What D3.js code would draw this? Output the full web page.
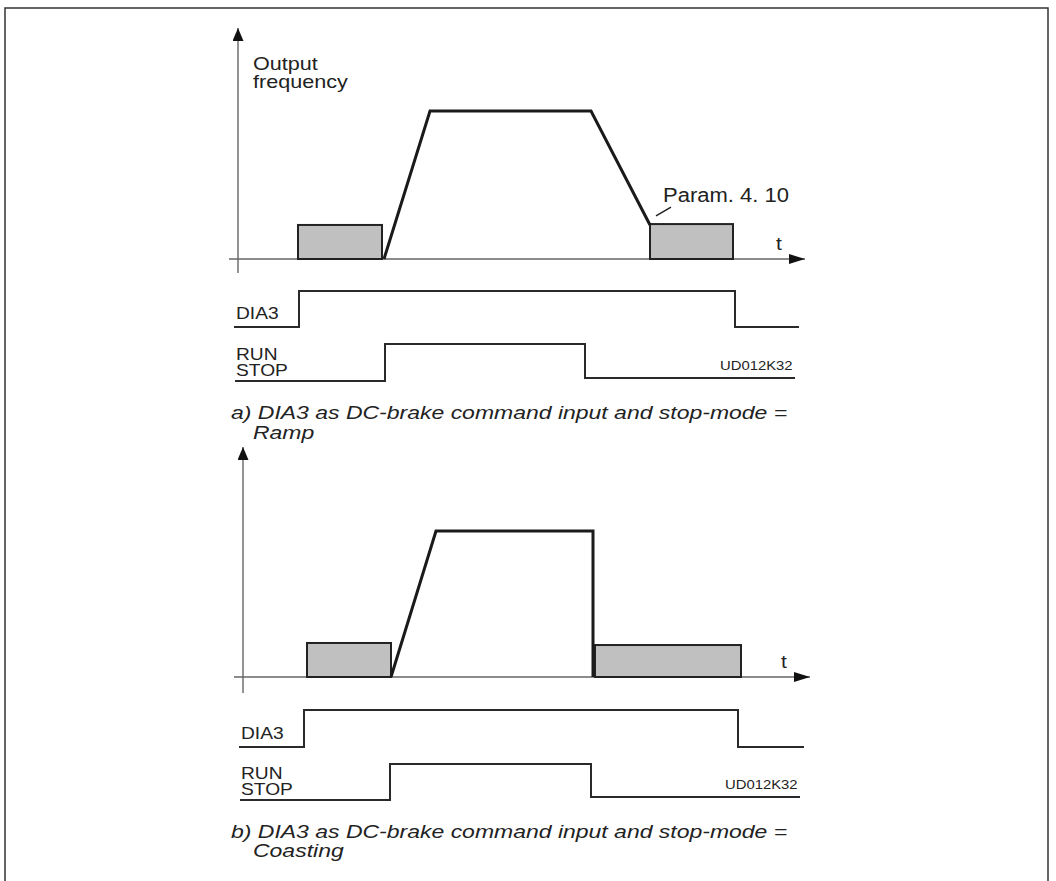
<!DOCTYPE html>
<html>
<head>
<meta charset="utf-8">
<script src="https://cdn.jsdelivr.net/npm/d3@7/dist/d3.min.js"></script>
<style>
  html, body { margin: 0; padding: 0; background: #fff; }
  svg { display: block; font-family: "Liberation Sans", Arial, Helvetica, sans-serif; }
</style>
</head>
<body>
<svg id="chart" width="1056" height="881"></svg>
<script>
// ---------------- DATA ----------------
const panels = ["a", "b"];
const captionLine1 = ["a) DIA3 as DC-brake command input and stop-mode =",
                      "b) DIA3 as DC-brake command input and stop-mode ="];
const captionLine2 = ["Ramp", "Coasting"];
const yAxisLabel = ["Output", "frequency"];
const timeLabel = "t";
const paramLabel = "Param. 4. 10";
const figureCode = "UD012K32";
const signalNames = ["DIA3", "RUN\nSTOP"];

// output frequency curve (time units, % of max frequency)
const freqTimesA  = [14.6, 19.2, 35.3, 41.2];
const freqValuesA = [0, 100, 100, 23];
const freqTimesB  = [14.8, 19.3, 35.0, 35.0];
const freqValuesB = [0, 100, 100, 0];

// DC-brake intervals
const brakeStartA = [6.0, 41.2];
const brakeEndA   = [14.4, 49.5];
const brakeLevelA = [23, 23.6];
const brakeStartB = [6.4, 35.2];
const brakeEndB   = [14.8, 49.8];
const brakeLevelB = [23.3, 21.9];

// digital signals: edge times and levels (step-after)
const dia3TimesA  = [-0.4, 6.1, 49.7, 56.1];
const dia3LevelsA = [0, 1, 0, 0];
const runTimesA   = [-0.3, 14.7, 34.7, 55.7];
const runLevelsA  = [0, 1, 0.08, 0.08];
const dia3TimesB  = [-0.4, 6.1, 49.5, 56.1];
const dia3LevelsB = [0, 1, 0, 0];
const runTimesB   = [-0.3, 14.7, 34.8, 55.7];
const runLevelsB  = [0, 1, 0.08, 0.08];

// ---------------- LAYOUT ----------------
const layout = {
  a: { ox: 238, baseY: 259, topY: 111, axisTopY: 28, axisBottomY: 273,
       dia3: [327, 291], run: [381, 344],
       dataFreqT: freqTimesA, dataFreqV: freqValuesA,
       bS: brakeStartA, bE: brakeEndA, bL: brakeLevelA,
       dT: dia3TimesA, dL: dia3LevelsA, rT: runTimesA, rL: runLevelsA,
       cap1Y: 419, cap2Y: 439 },
  b: { ox: 243, baseY: 677, topY: 531, axisTopY: 447, axisBottomY: 693,
       dia3: [747, 710], run: [800, 764],
       dataFreqT: freqTimesB, dataFreqV: freqValuesB,
       bS: brakeStartB, bE: brakeEndB, bL: brakeLevelB,
       dT: dia3TimesB, dL: dia3LevelsB, rT: runTimesB, rL: runLevelsB,
       cap1Y: 838, cap2Y: 857 }
};

const svg = d3.select("#chart");
const ink = "#222";

// border
svg.append("path")
  .attr("d", "M5,881 V8 H1048 V881")
  .attr("fill", "none").attr("stroke", "#333").attr("stroke-width", 1.5);

// arrow markers
const defs = svg.append("defs");
defs.append("marker").attr("id", "arrowX")
  .attr("viewBox", "0 0 16 10").attr("refX", 16).attr("refY", 5)
  .attr("markerUnits", "userSpaceOnUse")
  .attr("markerWidth", 16).attr("markerHeight", 10).attr("orient", "auto")
  .append("path").attr("d", "M0,0 L16,5 L0,10 Z").attr("fill", "#111");
defs.append("marker").attr("id", "arrowY")
  .attr("viewBox", "0 0 13 11").attr("refX", 13).attr("refY", 5.5)
  .attr("markerUnits", "userSpaceOnUse")
  .attr("markerWidth", 13).attr("markerHeight", 11).attr("orient", "auto")
  .append("path").attr("d", "M0,0 L13,5.5 L0,11 Z").attr("fill", "#111");

function stretchedText(g, str, x, y, size, sx, opts = {}) {
  return g.append("text")
    .attr("transform", `translate(${x},${y}) scale(${sx},1)`)
    .attr("font-size", size)
    .attr("font-style", opts.italic ? "italic" : "normal")
    .attr("fill", ink)
    .text(str);
}

panels.forEach((p, i) => {
  const L = layout[p];
  const g = svg.append("g");
  const x = d3.scaleLinear().domain([0, 56]).range([L.ox, L.ox + 560]);
  const y = d3.scaleLinear().domain([0, 100]).range([L.baseY, L.topY]);

  // axes (domain lines only) via d3 axes
  const xAxisScale = d3.scaleLinear().domain([-0.9, 56.7]).range([x(-0.9), x(56.7)]);
  const yAxisScale = d3.scaleLinear().domain([-10, 100]).range([L.axisBottomY, L.axisTopY]);

  g.append("line")
    .attr("x1", x(-0.9)).attr("x2", x(56.7))
    .attr("y1", y(0)).attr("y2", y(0))
    .attr("stroke", "#666").attr("stroke-width", 1.4)
    .attr("marker-end", "url(#arrowX)");
  g.append("line")
    .attr("x1", x(0)).attr("x2", x(0))
    .attr("y1", yAxisScale(-10)).attr("y2", yAxisScale(100))
    .attr("stroke", "#666").attr("stroke-width", 1.4)
    .attr("marker-end", "url(#arrowY)");

  // brake rectangles
  const brakes = L.bS.map((s, k) => ({ s, e: L.bE[k], v: L.bL[k] }));
  g.selectAll("rect.brake").data(brakes).join("rect")
    .attr("class", "brake")
    .attr("x", d => x(d.s)).attr("width", d => x(d.e) - x(d.s))
    .attr("y", d => y(d.v)).attr("height", d => y(0) - y(d.v))
    .attr("fill", "#c0c0c0").attr("stroke", "#222").attr("stroke-width", 2);

  // frequency curve
  const freq = L.dataFreqT.map((t, k) => [t, L.dataFreqV[k]]);
  g.append("path").datum(freq)
    .attr("d", d3.line().x(d => x(d[0])).y(d => y(d[1])))
    .attr("fill", "none").attr("stroke", "#1a1a1a").attr("stroke-width", 3)
    .attr("stroke-linejoin", "miter");

  // t label
  stretchedText(g, timeLabel, x(53.8), y(0) - 9, 19, 1.1);

  // signals
  const sigLine = (lv) => d3.line()
    .x(d => x(d[0]))
    .y(d => d3.scaleLinear().domain([0, 1]).range(lv)(d[1]))
    .curve(d3.curveStepAfter);
  const dia = L.dT.map((t, k) => [t, L.dL[k]]);
  const run = L.rT.map((t, k) => [t, L.rL[k]]);
  g.append("path").datum(dia).attr("d", sigLine(L.dia3)(dia))
    .attr("fill", "none").attr("stroke", "#2a2a2a").attr("stroke-width", 2);
  g.append("path").datum(run).attr("d", sigLine(L.run)(run))
    .attr("fill", "none").attr("stroke", "#2a2a2a").attr("stroke-width", 2);

  // signal labels
  const lx = x(-0.2);
  stretchedText(g, signalNames[0], lx, L.dia3[0] - 8, 16, 1.2);
  const rs = signalNames[1].split("\n");
  stretchedText(g, rs[0], lx, L.run[0] - 21, 16, 1.2);
  stretchedText(g, rs[1], lx, L.run[0] - 5, 16, 1.2);

  // figure code
  stretchedText(g, figureCode, x(48.2), L.run[0] - 11, 13.5, 1.1);

  // captions
  stretchedText(g, captionLine1[i], 231, L.cap1Y, 19, 1.21, { italic: true });
  stretchedText(g, captionLine2[i], 253, L.cap2Y, 19, 1.21, { italic: true });

  if (p === "a") {
    stretchedText(g, yAxisLabel[0], 253, 70, 18, 1.2);
    stretchedText(g, yAxisLabel[1], 253, 88, 18, 1.2);
    // Param label with leader line
    stretchedText(g, paramLabel, x(42.5), y(38.5), 19.5, 1.13);
    g.append("line")
      .attr("x1", x(41.8)).attr("y1", y(29.1))
      .attr("x2", x(43.3)).attr("y2", y(35.1))
      .attr("stroke", "#222").attr("stroke-width", 1.5);
  }
});
</script>
</body>
</html>
